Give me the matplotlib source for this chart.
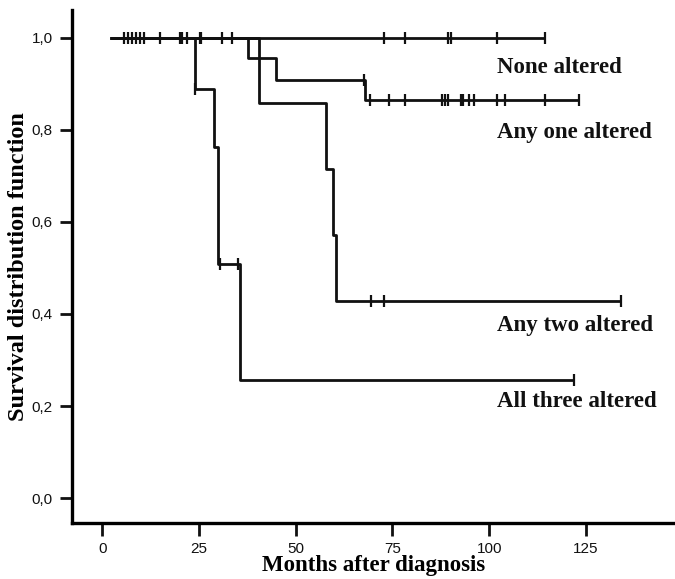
import matplotlib
matplotlib.use("Agg")
import matplotlib.pyplot as plt
import numpy as np

# ---- data ----
start_time = 2.0

none_events = []
none_surv = []
none_end = 114.5
none_censor = [5.7, 6.7, 7.8, 8.8, 9.8, 10.9, 15.0, 20.1, 20.5, 22.0, 25.3, 25.6,
               31.0, 33.5, 72.7, 78.3, 89.3, 90.2, 102.1, 114.5]

one_events = [37.6, 45.0, 68.0]
one_surv = [0.955, 0.909, 0.864]
one_end = 123.1
one_censor = [67.7, 69.2, 74.2, 78.3, 87.8, 88.6, 89.3, 92.6, 93.1, 94.7, 96.1,
              102.1, 104.1, 114.3, 123.1]

two_events = [40.5, 57.7, 59.6, 60.5]
two_surv = [0.857, 0.714, 0.571, 0.429]
two_end = 134.0
two_censor = [69.4, 72.7, 134.0]

three_events = [24.0, 29.0, 30.0, 35.5]
three_surv = [0.889, 0.762, 0.508, 0.256]
three_end = 122.0
three_censor = [24.0, 30.5, 35.2, 122.0]

labels = ["None altered", "Any one altered", "Any two altered", "All three altered"]
label_x = [102, 102, 102, 102]
label_y = [0.935, 0.795, 0.375, 0.21]

xticks = [0, 25, 50, 75, 100, 125]
yticks = [0.0, 0.2, 0.4, 0.6, 0.8, 1.0]
ytick_labels = ["0,0", "0,2", "0,4", "0,6", "0,8", "1,0"]

# ---- plot ----
fig = plt.figure(figsize=(6.75, 5.79), dpi=100)
ax = fig.add_axes([0.1067, 0.0967, 0.8933, 0.886])

def surv_at(t, events, surv):
    s = 1.0
    for e, v in zip(events, surv):
        if t >= e:
            s = v
    return s

series = [
    (none_events, none_surv, none_end, none_censor),
    (one_events, one_surv, one_end, one_censor),
    (two_events, two_surv, two_end, two_censor),
    (three_events, three_surv, three_end, three_censor),
]

for events, surv, end, censor in series:
    xs = [start_time] + list(events) + [end]
    ys = [1.0] + list(surv) + [surv[-1] if surv else 1.0]
    ax.step(xs, ys, where="post", color="#111111", lw=2.0, solid_capstyle="butt")
    cy = [surv_at(c, events, surv) for c in censor]
    ax.plot(censor, cy, ls="none", marker="|", ms=9, mew=1.6, color="#111111")

for lab, lx, ly in zip(labels, label_x, label_y):
    ax.text(lx, ly, lab, fontsize=16.5, fontweight="bold", family="Liberation Serif",
            ha="left", va="center", color="#111111")

ax.set_xlim(-7.8, 148)
ax.set_ylim(-0.054, 1.06)
ax.set_xticks(xticks)
ax.set_yticks(yticks)
ax.set_yticklabels(ytick_labels)
for lbl in ax.get_xticklabels() + ax.get_yticklabels():
    lbl.set_family("Liberation Sans")
    lbl.set_fontsize(11)
    lbl.set_color("#111111")

ax.spines["top"].set_visible(False)
ax.spines["right"].set_visible(False)
ax.spines["left"].set_linewidth(2.4)
ax.spines["bottom"].set_linewidth(2.4)
ax.tick_params(axis="both", length=9, width=2, color="#111111", pad=5)

ax.set_xlabel("Months after diagnosis", fontsize=16.5, fontweight="bold",
              family="Liberation Serif", labelpad=-1)
ax.set_ylabel("Survival distribution function", fontsize=17.5, fontweight="bold",
              family="Liberation Serif", labelpad=2)

fig.savefig("out.png", dpi=100)
